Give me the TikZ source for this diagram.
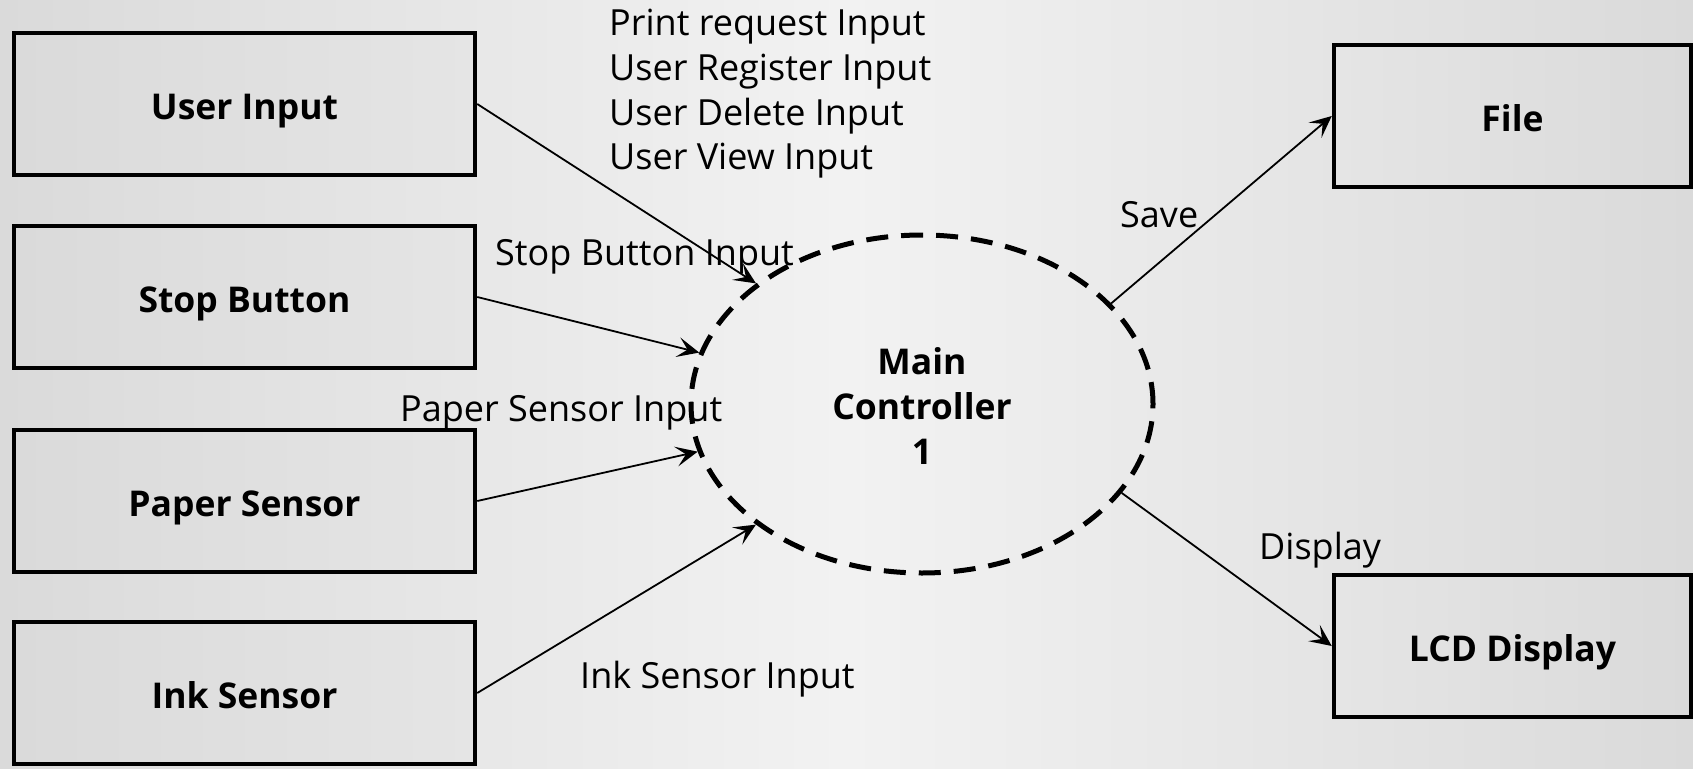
\documentclass[tikz,border=0pt]{standalone}
\usepackage{fontspec}
\setmainfont{Open Sans}
\usetikzlibrary{arrows.meta,shapes.geometric}
\definecolor{bgside}{HTML}{DADADA}
\definecolor{bgmid}{HTML}{F2F2F2}
\definecolor{boxdark}{HTML}{DADADA}
\definecolor{boxlight}{HTML}{E5E5E5}
\tikzset{
  blockbox/.style={draw=black, line width=4.5pt, minimum width=461pt, minimum height=142pt,
    inner sep=0pt, text height=30pt, text depth=0pt, font=\fontsize{35.5}{45}\selectfont\bfseries},
  leftbox/.style={blockbox, left color=boxdark, right color=boxlight},
  rightbox/.style={blockbox, minimum width=357pt, left color=boxlight, right color=boxdark},
  proc/.style={ellipse, draw=black, line width=5pt, dash pattern=on 22pt off 13pt,
    minimum width=462pt, minimum height=338pt, inner sep=0pt, align=center,
    font=\fontsize{35.5}{45}\selectfont\bfseries},
  flow/.style={line width=1.8pt, -{Stealth[length=22pt,width=20pt,inset=10pt]}},
  lbl/.style={anchor=base west, inner sep=0pt, font=\fontsize{36}{44.5}\selectfont}
}
\begin{document}
\begin{tikzpicture}[x=1pt,y=-1pt]
\useasboundingbox (0,0) rectangle (1693,768);
\shade[left color=bgside, right color=bgside, middle color=bgmid] (0,0) rectangle (1693,768);

\node[leftbox] (ui) at (244.5,104) {User Input};
\node[leftbox] (sb) at (244.5,297) {Stop Button};
\node[leftbox] (ps) at (244.5,501) {Paper Sensor};
\node[leftbox] (is) at (244.5,693) {Ink Sensor};
\node[rightbox] (fi) at (1512.5,116) {File};
\node[rightbox] (lcd) at (1512.5,646) {LCD Display};

\node[proc] (mc) at (922,404) {\rule{0pt}{30pt}Main\\Controller\\1};

\draw[flow] (ui.east) -- (mc.144);
\draw[flow] (sb.east) -- (mc.167);
\draw[flow] (ps.east) -- (mc.192);
\draw[flow] (is.east) -- (mc.216);
\draw[flow] (mc.28) -- (fi.west);
\draw[flow] (mc.336) -- (lcd.west);

\node[lbl] (l1) at (609,35.7) {Print request Input};
\node[lbl] (l2) at (609,81) {User Register Input};
\node[lbl] (l3) at (609,125.7) {User Delete Input};
\node[lbl] (l4) at (609,169.3) {User View Input};
\node[lbl] (l5) at (495,265) {Stop Button Input};
\node[lbl] (l6) at (400,421.5) {Paper Sensor Input};
\node[lbl] (l7) at (580,688.5) {Ink Sensor Input};
\node[lbl] (l8) at (1120,227.7) {Save};
\node[lbl] (l9) at (1259,559) {Display};
\end{tikzpicture}
\end{document}
